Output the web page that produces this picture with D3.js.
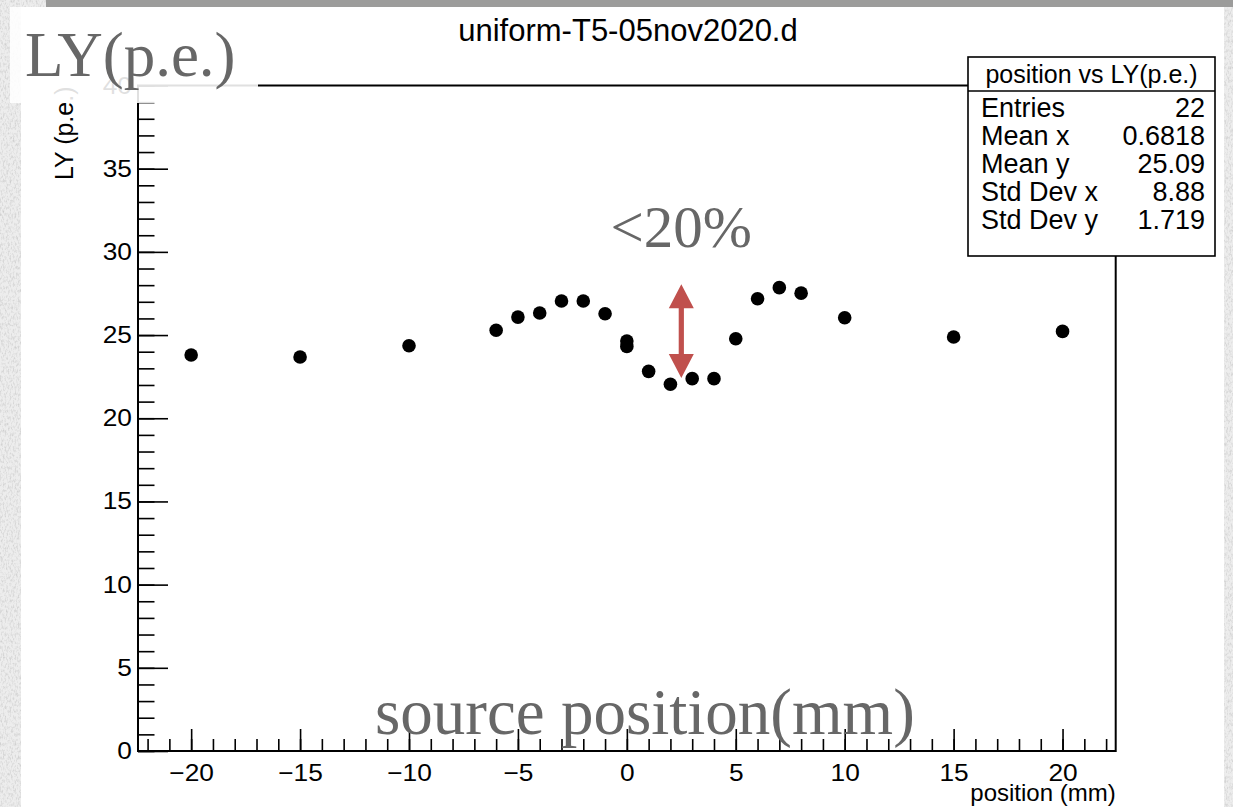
<!DOCTYPE html>
<html>
<head>
<meta charset="utf-8">
<script src="https://cdnjs.cloudflare.com/ajax/libs/d3/7.8.5/d3.min.js"></script>
<style>
	body { margin: 0; overflow: hidden; background: #e9e9e9; }
	svg { display: block; }
	.root { font-family: "Liberation Sans", Arial, Helvetica, sans-serif; fill: #000; }
	.slide { font-family: "Liberation Serif", "Times New Roman", serif; fill: #676767; }
	.xlab text { transform-box: fill-box; transform-origin: center; transform: scaleX(1.12); }
	.ylab text { transform-box: fill-box; transform-origin: right center; transform: scaleX(1.12); }
</style>
</head>
<body>
<svg id="chart" width="1233" height="807"></svg>
<script>
// ---- data ----
var plotTitle = "uniform-T5-05nov2020.d";
var xTitle = "position (mm)";
var yTitle = "LY (p.e.)";

var positions = [-20, -15, -10, -6, -5, -4, -3, -2, -1, 0, 0, 1, 2, 3, 4, 5, 6, 7, 8, 10, 15, 20];
var lightYield = [23.80, 23.68, 24.36, 25.29, 26.08, 26.33, 27.05, 27.05, 26.28, 24.32, 24.64,
	22.82, 22.04, 22.38, 22.38, 24.78, 27.18, 27.85, 27.52, 26.04, 24.88, 25.22];

var xTickValues = [-20, -15, -10, -5, 0, 5, 10, 15, 20];
var yTickValues = [0, 5, 10, 15, 20, 25, 30, 35, 40];

var statsTitle = "position vs LY(p.e.)";
var statsNames = ["Entries", "Mean x", "Mean y", "Std Dev x", "Std Dev y"];
var statsValues = ["22", "0.6818", "25.09", "8.88", "1.719"];

// slide annotations
var noteYLabel = "LY(p.e.)";
var noteSpread = "<20%";
var noteXLabel = "source position(mm)";
var arrowX = 2.5;
var arrowSpan = [22.42, 28.05];

// ---- drawing ----
var svg = d3.select("#chart");
var W = 1233, H = 807;

var defs = svg.append("defs");
var paper = defs.append("filter").attr("id", "paper")
	.attr("x", 0).attr("y", 0).attr("width", "100%").attr("height", "100%");
paper.append("feTurbulence")
	.attr("type", "fractalNoise")
	.attr("baseFrequency", "0.6 0.3")
	.attr("numOctaves", 3)
	.attr("seed", 7);
paper.append("feColorMatrix")
	.attr("type", "matrix")
	.attr("values", "0 0 0 0 0.5  0 0 0 0 0.5  0 0 0 0 0.5  1.4 0 0 0 -0.62");

// paper background
svg.append("rect").attr("width", W).attr("height", H).attr("fill", "#ededed");
svg.append("rect").attr("width", W).attr("height", H).attr("filter", "url(#paper)");

// grey strip on top and white canvas of the ROOT picture
svg.append("rect").attr("x", 46).attr("y", 0).attr("width", W - 46).attr("height", 7).attr("fill", "#9c9c9b");
svg.append("rect").attr("x", 21).attr("y", 7).attr("width", 1203).attr("height", H - 7).attr("fill", "#fff");

var x = d3.scaleLinear().domain([-22.44, 22.44]).range([138, 1115.7]);
var y = d3.scaleLinear().domain([0, 40]).range([751, 85.5]);

var g = svg.append("g").attr("class", "root");

// minor ticks
g.append("g")
	.attr("transform", "translate(0," + y(0) + ")")
	.call(d3.axisBottom(x).tickValues(d3.range(-22, 23)).tickSizeInner(-12).tickSizeOuter(0).tickFormat(""))
	.call(function(a) { a.select(".domain").remove(); });
g.append("g")
	.attr("transform", "translate(" + x.range()[0] + ",0)")
	.call(d3.axisLeft(y).tickValues(d3.range(0, 41)).tickSizeInner(-16.5).tickSizeOuter(0).tickFormat(""))
	.call(function(a) { a.select(".domain").remove(); });

// major ticks + labels
var xAxis = g.append("g")
	.attr("class", "xlab")
	.attr("transform", "translate(0," + y(0) + ")")
	.call(d3.axisBottom(x).tickValues(xTickValues).tickSizeInner(-22).tickSizeOuter(0).tickPadding(13));
var yAxis = g.append("g")
	.attr("class", "ylab")
	.attr("transform", "translate(" + x.range()[0] + ",0)")
	.call(d3.axisLeft(y).tickValues(yTickValues).tickSizeInner(-30).tickSizeOuter(0).tickPadding(6));

[xAxis, yAxis].forEach(function(a) {
	a.attr("font-family", null).attr("font-size", null);
	a.select(".domain").remove();
	a.selectAll("text").attr("fill", "#000").style("font-size", "23.5px");
});
g.selectAll(".tick line").attr("stroke", "#000").attr("stroke-width", 1.6);

// frame
g.append("rect")
	.attr("x", x.range()[0]).attr("y", y.range()[1])
	.attr("width", x.range()[1] - x.range()[0])
	.attr("height", y.range()[0] - y.range()[1])
	.attr("fill", "none").attr("stroke", "#000").attr("stroke-width", 2);

// axis titles
g.append("text")
	.attr("x", x.range()[1]).attr("y", 801)
	.attr("text-anchor", "end")
	.style("font-size", "24px")
	.text(xTitle);
g.append("text")
	.attr("transform", "translate(73," + (y.range()[1] + 1) + ") rotate(-90)")
	.attr("text-anchor", "end")
	.style("font-size", "25px")
	.text(yTitle);

// points
g.selectAll(".pt")
	.data(positions)
	.enter().append("circle")
	.attr("class", "pt")
	.attr("cx", function(d) { return x(d); })
	.attr("cy", function(d, i) { return y(lightYield[i]); })
	.attr("r", 6.8)
	.attr("fill", "#000");

// title
g.append("text")
	.attr("x", 628).attr("y", 41)
	.attr("text-anchor", "middle")
	.style("font-size", "31px")
	.text(plotTitle);

// stats box
var box = g.append("g").attr("transform", "translate(968,57)");
box.append("rect").attr("width", 247).attr("height", 199)
	.attr("fill", "#fff").attr("stroke", "#000").attr("stroke-width", 1.6);
box.append("line").attr("x1", 0).attr("x2", 247).attr("y1", 34).attr("y2", 34)
	.attr("stroke", "#000").attr("stroke-width", 1.6);
box.append("text").attr("x", 123.5).attr("y", 26)
	.attr("text-anchor", "middle").style("font-size", "25px").text(statsTitle);
box.selectAll(".sname").data(statsNames).enter().append("text")
	.attr("class", "sname")
	.attr("x", 13).attr("y", function(d, i) { return 60 + i * 28; })
	.style("font-size", "27px").text(function(d) { return d; });
box.selectAll(".sval").data(statsValues).enter().append("text")
	.attr("class", "sval")
	.attr("x", 237).attr("y", function(d, i) { return 60 + i * 28; })
	.attr("text-anchor", "end")
	.style("font-size", "27px").text(function(d) { return d; });

// slide annotations: double arrow
var ax = x(arrowX), yb = y(arrowSpan[0]), yt = y(arrowSpan[1]);
var hw = 12.5, hl = 24, sw = 2.6;
var arrowPath = d3.path();
arrowPath.moveTo(ax, yt);
arrowPath.lineTo(ax + hw, yt + hl);
arrowPath.lineTo(ax + sw, yt + hl);
arrowPath.lineTo(ax + sw, yb - hl);
arrowPath.lineTo(ax + hw, yb - hl);
arrowPath.lineTo(ax, yb);
arrowPath.lineTo(ax - hw, yb - hl);
arrowPath.lineTo(ax - sw, yb - hl);
arrowPath.lineTo(ax - sw, yt + hl);
arrowPath.lineTo(ax - hw, yt + hl);
arrowPath.closePath();
svg.append("path").attr("d", arrowPath.toString()).attr("fill", "#c0504d");

svg.append("text").attr("class", "slide")
	.attr("x", ax).attr("y", 247)
	.attr("text-anchor", "middle")
	.style("font-size", "59px")
	.text(noteSpread);
svg.append("text").attr("class", "slide")
	.attr("x", 375).attr("y", 734)
	.style("font-size", "65px")
	.text(noteXLabel);

// white label box top left, covering the corner of the plot
svg.append("rect").attr("x", 10).attr("y", 7).attr("width", 248).attr("height", 96)
	.attr("fill", "#fff").attr("fill-opacity", 0.88);
svg.append("text").attr("class", "slide")
	.attr("x", 25).attr("y", 76)
	.style("font-size", "63px")
	.text(noteYLabel);
</script>
</body>
</html>
